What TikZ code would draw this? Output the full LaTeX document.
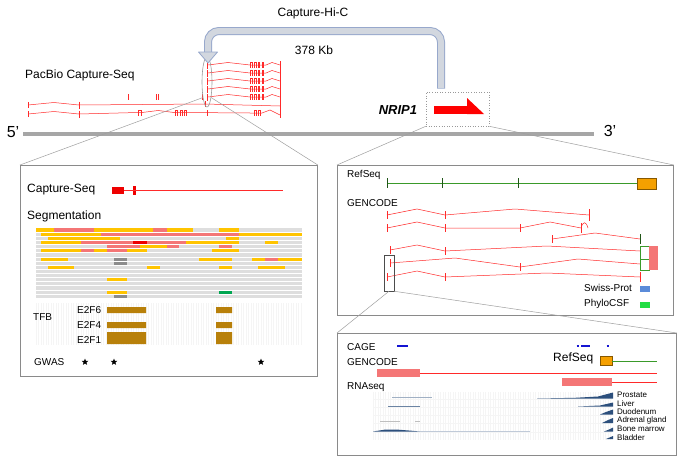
\documentclass[tikz,border=0pt]{standalone}
\usepackage{fontspec}
\setmainfont{Liberation Sans}
\usetikzlibrary{shapes.geometric}
\definecolor{rd}{HTML}{FF2A2A}
\definecolor{salm}{HTML}{F47676}
\definecolor{segy}{HTML}{FFC400}
\definecolor{segr}{HTML}{EE0000}
\definecolor{segg}{HTML}{8C8C8C}
\definecolor{segn}{HTML}{00A651}
\definecolor{seggray}{HTML}{DEDEDE}
\definecolor{tfb}{HTML}{B8800A}
\definecolor{orng}{HTML}{F5A000}
\definecolor{grn}{HTML}{3A9A2A}
\definecolor{pipef}{HTML}{D2D7DF}
\definecolor{pipee}{HTML}{97A8CC}
\definecolor{rnab}{HTML}{2C4F7C}
\definecolor{cage}{HTML}{1414D2}
\definecolor{chrom}{HTML}{A6A6A6}
\definecolor{pan}{HTML}{8A8A8A}
\definecolor{spb}{HTML}{5B8BD9}
\definecolor{pcsf}{HTML}{22DD44}
\newcommand\sg[4]{\fill[#4] (#2,{228+4.12*#1}) rectangle (#3,{228+4.12*(#1+1)});}
\newcommand\nex[3]{\draw[rdl] (#1,{#3+2.5}) -- (#1,{#3-3}) -- (#2,{#3-3}) -- (#2,{#3+2.5});}
\newcommand\upread[1]{%
  \draw[rdl] (208,#1) -- (228,{#1-2.5}) -- (250,#1) -- (266,#1) -- (272,{#1-2.5}) -- (280,#1);
  \draw[rdt] (207,{#1-3.5}) -- (207,{#1+3.5});
  \draw[rdt] (280,{#1-4}) -- (280,{#1+4});
  \nex{250.5}{252}{#1}\nex{254.5}{256}{#1}\nex{258}{259.5}{#1}\nex{262}{263.5}{#1}%
}
\begin{document}
\begin{tikzpicture}[x=1pt,y=-1pt,
  lbl/.style={inner sep=0, font=\fontsize{12}{14}\selectfont, anchor=west},
  sml/.style={inner sep=0, font=\fontsize{10}{12}\selectfont, anchor=west},
  tis/.style={inner sep=0, font=\fontsize{8}{9}\selectfont, anchor=west},
  panel/.style={draw=pan, line width=0.8, anchor=north west, inner sep=0},
  rdl/.style={draw=rd, line width=0.5},
  rdt/.style={draw=rd, line width=0.9},
  zoomln/.style={draw=gray!75, line width=0.5},
  faint/.style={draw=black!4, line width=0.35},
  gtick/.style={draw=grn!55!black, line width=0.6},
  ]
\useasboundingbox (0,0) rectangle (682,463);
\fill[white] (0,0) rectangle (682,463);

% ---------- top overview ----------
\node[lbl, anchor=center] (hic) at (313,13) {Capture-Hi-C};
\node[lbl, anchor=center] (kb) at (314,50) {378 Kb};
\node[lbl] (pb) at (25,75) {PacBio Capture-Seq};
\node[font=\fontsize{13}{15}\selectfont\bfseries\itshape, inner sep=0] (nrip) at (398,110) {NRIP1};
\node[font=\fontsize{16}{18}\selectfont, inner sep=0] (p5) at (13,132) {5'};
\node[font=\fontsize{16}{18}\selectfont, inner sep=0] (p3) at (610,131) {3'};

% chromosome
\coordinate (chrL) at (23,134);
\coordinate (chrR) at (594,134);
\draw[chrom, line width=4] (chrL) -- (chrR);

% PacBio reads
\upread{65}\upread{73}\upread{81}\upread{89}\upread{97}
\draw[rdl] (28,105) -- (54,102.5) -- (79,105) -- (205,104) -- (280,106);
\draw[rdt] (28,102)--(28,108) (79,101.5)--(79,108.5) (205,101)--(205,107) (280,101)--(280,109);
\draw[rdl] (28,114) -- (54,111.5) -- (79,114) -- (138,112.5) -- (142,112.5) -- (158,110.5) -- (174,112.5) -- (186,112.5) -- (250,113) -- (262,113) -- (270,110) -- (280,115);
\draw[rdt] (28,111)--(28,117) (79,110.5)--(79,117.5) (207,110)--(207,116) (280,109)--(280,118);
\nex{138}{141}{113}\nex{175}{177}{113}\nex{180}{182}{113}\nex{184}{186}{113}\nex{254}{256}{113}\nex{258}{260}{113}
\draw[rdt] (128,94)--(128,100) (156,94)--(156,100) (158.5,94)--(158.5,100) (202,94)--(202,100);

% ellipse & NRIP1 box
\node[draw=gray!80, line width=0.6, ellipse, minimum width=10, minimum height=50, inner sep=0] (ell) at (207,82) {};
\fill[red] (434,106) rectangle (468,114);
\fill[red] (467,98) -- (484,114) -- (467,114) -- cycle;
\node[draw=gray!80, dotted, line width=0.6, minimum width=63, minimum height=34, inner sep=0] (nb) at (457.5,109) {};

% Capture-Hi-C pipe
\coordinate (hcs) at (441,88.5);
\coordinate (hct) at (208,54);
\draw[pipee, line width=8, rounded corners=11] (hcs) -- (441,31) -- (208,31) -- (hct);
\draw[pipef, line width=6, rounded corners=11] (441,88) -- (441,31) -- (208,31) -- (208,55);
\filldraw[fill=pipef, draw=pipee, line width=0.8, line join=round] (198.5,52) -- (217.5,52) -- (208,63) -- cycle;

% ---------- panels ----------
\node[panel, minimum width=297, minimum height=211] (lp) at (20,165) {};
\node[panel, minimum width=336, minimum height=150] (rp1) at (337,165) {};
\node[panel, minimum width=339, minimum height=122] (rp2) at (337,333) {};

\draw[zoomln] (ell.255) -- (lp.north west);
\draw[zoomln] (ell.285) -- (lp.north east);
\draw[zoomln] (nb.south west) -- (rp1.north west);
\draw[zoomln] (nb.south east) -- (rp1.north east);

% ---------- left panel ----------
\node[lbl] (cs) at (27,190) {Capture-Seq};
\fill[segr] (112,187) rectangle (124,194);
\fill[segr] (133,185.5) rectangle (136,195);
\draw[rd, line width=0.6] (124,190.5) -- (283,190.5);
\node[lbl] (seg) at (27,216) {Segmentation};

\fill[seggray] (36,228) rectangle (302,298);
\sg{0}{36}{54}{segy}\sg{0}{54}{94}{salm}\sg{0}{94}{153}{segy}\sg{0}{153}{167}{salm}\sg{0}{167}{193}{segy}\sg{0}{219}{239}{segy}
\sg{1}{41}{101}{segy}\sg{1}{101}{239}{salm}\sg{1}{239}{302}{segy}
\sg{2}{48}{120}{segy}\sg{2}{226}{239}{segy}
\sg{3}{41}{81}{segy}\sg{3}{81}{133}{salm}\sg{3}{133}{147}{segr}\sg{3}{147}{186}{salm}\sg{3}{186}{239}{segy}\sg{3}{265}{278}{segy}
\sg{4}{107}{140}{salm}\sg{4}{140}{167}{segy}\sg{4}{167}{179}{salm}\sg{4}{219}{232}{salm}
\sg{5}{41}{81}{segy}\sg{5}{81}{94}{salm}\sg{5}{94}{107}{segy}\sg{5}{107}{127}{salm}\sg{5}{127}{147}{segy}\sg{5}{212}{239}{segy}
\sg{7}{41}{68}{segy}\sg{7}{114}{127}{segg}\sg{7}{199}{232}{segy}\sg{7}{252}{265}{segy}\sg{7}{265}{278}{salm}\sg{7}{278}{302}{segy}
\sg{8}{114}{127}{segg}
\sg{9}{48}{74}{segy}\sg{9}{147}{160}{segy}\sg{9}{219}{232}{segy}\sg{9}{258}{285}{segy}
\sg{12}{107}{127}{segy}
\sg{15}{107}{127}{segy}\sg{15}{219}{232}{segn}
\sg{16}{114}{127}{segg}
\foreach \k in {1,...,16} {\draw[white, line width=0.45] (36,{228+4.12*\k}) -- (302,{228+4.12*\k});}

\foreach \xx in {36,38.5,...,302} {\draw[faint] (\xx,303) -- (\xx,345);}
\node[sml] (tfbl) at (33,317) {TFB};
\node[sml] (e6) at (77,310) {E2F6};
\node[sml] (e4) at (77,325) {E2F4};
\node[sml] (e1) at (77,340) {E2F1};
\fill[tfb] (107,307) rectangle (146,313) (216,307) rectangle (232,313);
\fill[tfb] (107,322) rectangle (146,328) (216,322) rectangle (232,328);
\fill[tfb] (107,332) rectangle (146,344) (216,332) rectangle (232,344);
\node[sml] (gw) at (34,362) {GWAS};
\foreach \xx in {85,114,261} {\node[star, star points=5, star point ratio=2.3, fill=black, minimum size=7, inner sep=0] at (\xx,362) {};}

% ---------- right panel 1 ----------
\node[sml] (rs1) at (347,175) {RefSeq};
\node[sml] (gc1) at (347,203) {GENCODE};
\draw[grn, line width=0.8] (387,183) -- (637,183);
\draw[gtick] (387,178)--(387,188) (442,178)--(442,188) (518,178)--(518,188);
\filldraw[fill=orng, draw=orng!55!black, line width=0.6] (637,178) rectangle (656,189);

\draw[rdl] (387,215)--(417,209)--(445,215)--(515,209)--(589,215);
\draw[rdl] (387,211)--(387,219) (445,211)--(445,219) (589,209)--(589,221);
\draw[rdl] (387,228)--(417,222)--(445,228)--(520,228)--(550,222)--(581,228);
\draw[rdl] (387,224)--(387,232) (445,224)--(445,232) (520,224)--(520,232) (581,223)--(581,233);
\draw[rdl] (581,228) .. controls (583,221) and (586,221) .. (588,228);
\draw[rdl] (552,239)--(595,233)--(640,239);
\draw[rdl] (552,235)--(552,243);
\draw[gtick] (640,234)--(640,244);
\draw[rdl] (390,250)--(417,245)--(445,251)--(547,246)--(640,251);
\draw[rdl] (390,246)--(390,254) (445,247)--(445,255);
\draw[rdl] (390,263)--(455,258)--(520,267)--(578,259)--(640,264);
\draw[rdl] (390,259)--(390,267) (520,263)--(520,271);
\draw[rdl] (387,277)--(417,271)--(445,277)--(547,273)--(640,277);
\draw[rdl] (387,273)--(387,281) (445,273)--(445,281) (640,272)--(640,282);
\draw[grn, line width=0.7, fill=white] (640,246) rectangle (649,259);
\fill[salm] (649,246) rectangle (658,259);
\draw[grn, line width=0.7, fill=white] (640,259) rectangle (649,270);
\fill[salm] (649,259) rectangle (658,270);

\node[sml] (sp) at (584,288) {Swiss-Prot};
\fill[spb] (640,286) rectangle (650,291.5);
\node[sml] (pc) at (584,304) {PhyloCSF};
\fill[pcsf] (640,302) rectangle (650,307.5);

\node[draw=gray!60!black, line width=0.5, minimum width=10, minimum height=36, inner sep=0] (sr) at (389,273) {};
\draw[zoomln] (sr.south) -- (rp2.north west);
\draw[zoomln] (sr.south east) -- (rp2.north east);

% ---------- right panel 2 ----------
\node[sml] (cg) at (347,347) {CAGE};
\node[sml] (gc2) at (347,362) {GENCODE};
\node[sml] (rna) at (347,387) {RNAseq};
\draw[cage, line width=2.2] (397,346) -- (408,346) (576.5,346) -- (578.5,346) (581,346) -- (590,346) (606.5,346) -- (608.5,346);
\node[lbl] (rs2) at (553,358) {RefSeq};
\filldraw[fill=orng, draw=orng!55!black, line width=0.5] (600,356) rectangle (612,365);
\draw[grn, line width=0.8] (612,361) -- (657,361);
\fill[salm] (377,369) rectangle (420,377);
\draw[rd, line width=0.6] (420,373) -- (657,373);
\fill[salm] (562,378) rectangle (612,386);
\draw[rd, line width=0.6] (612,382) -- (657,382);

\foreach \xx in {373,375.5,...,612} {\draw[faint] (\xx,392) -- (\xx,440);}
\foreach \yy in {399,407,415,423.5,432} {\draw[draw=black!4, line width=0.4] (373,\yy) -- (612,\yy);}

\draw[rnab!45, line width=0.6] (392,397.5) -- (432,397.5);
\draw[rnab!70, line width=0.6] (388,406) -- (420,406);
\draw[black!25, line width=0.6] (380,421) -- (400,421) (415,421) -- (420,421);
\fill[rnab] (373,431.5) -- (385,429.6) -- (396,429.5) -- (410,430.6) -- (420,431.5) -- cycle;
\draw[rnab!30, line width=0.6] (420,431) -- (530,431);

\fill[rnab] (537,398.5) -- (575,397.8) -- (598,396.5) -- (613,392.5) -- (613,398.5) -- cycle;
\fill[rnab] (578,406.5) -- (600,405.5) -- (613,402.5) -- (613,406.5) -- cycle;
\fill[rnab] (600,414.5) -- (606,412) -- (613,409.5) -- (613,414.5) -- cycle;
\fill[rnab] (602,423) -- (607,420.5) -- (613,418) -- (613,423) -- cycle;
\fill[rnab] (604,431.5) -- (609,429.5) -- (613,427.5) -- (613,431.5) -- cycle;
\fill[rnab] (606,439) -- (613,436) -- (613,439) -- cycle;

\node[tis] (t1) at (617,395) {Prostate};
\node[tis] (t2) at (617,403.5) {Liver};
\node[tis] (t3) at (617,412) {Duodenum};
\node[tis] (t4) at (617,420.5) {Adrenal gland};
\node[tis] (t5) at (617,429) {Bone marrow};
\node[tis] (t6) at (617,437.5) {Bladder};
\end{tikzpicture}
\end{document}
